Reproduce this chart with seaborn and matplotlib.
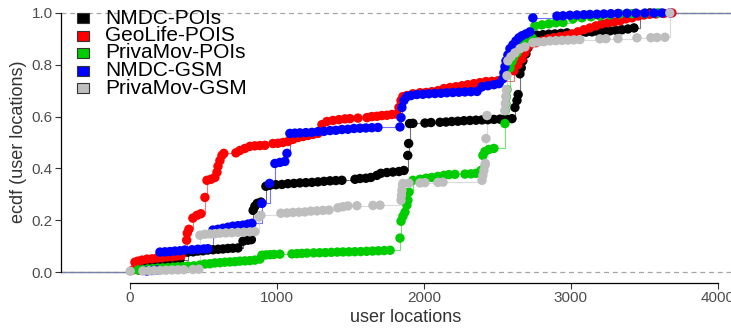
import matplotlib
matplotlib.use("Agg")
import matplotlib.pyplot as plt
from matplotlib.patches import Rectangle
import pandas as pd
import seaborn as sns

# ECDF points (user locations, cumulative share of users) per dataset
nmdc_pois = [
    (61, .008), (102, .019), (136, .027), (170, .031), (204, .035), (238, .038), (272, .042), (306, .046), (340, .048),
    (394, .077), (430, .078), (462, .081), (497, .082), (530, .085), (565, .086), (600, .088), (633, .089), (667, .091),
    (700, .092), (735, .093), (769, .119), (803, .123), (826, .125),
    (838, .238), (850, .254), (866, .265), (891, .27),
    (925, .331), (952, .335), (993, .337), (1034, .338), (1075, .341), (1116, .342), (1156, .344), (1197, .345),
    (1238, .346), (1279, .348), (1320, .35), (1361, .352), (1401, .353), (1442, .354),
    (1531, .358), (1565, .361), (1605, .362), (1639, .365), (1680, .373), (1707, .381), (1748, .384), (1789, .386),
    (1830, .388), (1864, .392), (1890, .45), (1896, .496),
    (1902, .573), (1925, .574), (2007, .575), (2048, .577), (2109, .578), (2150, .579), (2190, .581), (2231, .582),
    (2272, .584), (2313, .585), (2354, .586), (2395, .587), (2435, .588), (2476, .589), (2517, .59), (2558, .591),
    (2599, .592), (2619, .635), (2633, .662), (2641, .685),
    (2653, .765), (2662, .788), (2673, .815), (2694, .842), (2707, .865),
    (2728, .912), (2769, .914), (2810, .916), (2850, .918), (2891, .919), (2932, .921), (2973, .923), (3061, .924),
    (3102, .926), (3143, .927), (3184, .928), (3224, .93), (3265, .931), (3306, .933), (3347, .935), (3388, .938),
    (3429, .942), (3469, .992), (3537, 1.0),
]

geolife_pois = [
    (20, .008), (34, .038), (54, .042), (82, .046), (116, .05), (150, .051), (184, .054), (218, .055), (252, .058),
    (286, .059), (320, .062), (347, .063),
    (386, .123), (390, .15), (401, .165), (428, .208), (456, .219), (483, .225), (510, .288),
    (524, .354), (551, .358), (578, .365), (592, .385), (599, .408), (612, .43), (626, .45), (639, .458),
    (721, .46), (748, .469), (782, .477), (816, .485), (850, .487), (884, .488), (918, .489),
    (973, .496), (1007, .497), (1041, .5), (1075, .504), (1109, .512), (1143, .519), (1177, .523), (1211, .527),
    (1245, .531), (1279, .535),
    (1306, .569), (1340, .581), (1381, .585), (1422, .588), (1463, .591), (1497, .592), (1551, .594), (1612, .596),
    (1646, .6), (1680, .601), (1714, .604), (1748, .605), (1782, .608), (1816, .609),
    (1830, .635), (1844, .662), (1857, .677),
    (1884, .681), (1925, .688), (1973, .692), (2014, .693), (2054, .696), (2095, .7), (2136, .708), (2177, .712),
    (2218, .715), (2259, .719), (2299, .723), (2340, .727), (2381, .731), (2422, .735), (2463, .736), (2503, .738),
    (2612, .777), (2639, .8), (2667, .823), (2687, .846), (2701, .865), (2721, .877),
    (2762, .885), (2803, .892), (2844, .9), (2884, .904), (2925, .908), (2966, .912), (3007, .919), (3048, .927),
    (3088, .935), (3129, .942), (3170, .95), (3211, .958), (3252, .962), (3293, .965), (3333, .969), (3374, .977),
    (3415, .981), (3456, .988), (3497, .992), (3537, .995), (3578, .996), (3633, .998), (3687, 1.0),
]

privamov_pois = [
    (54, .008), (88, .009), (122, .012), (156, .013), (190, .015), (224, .016), (258, .017), (293, .019), (327, .02),
    (361, .021), (394, .023), (435, .024), (476, .027),
    (510, .031), (544, .032), (578, .035), (612, .036), (646, .038), (680, .039), (714, .04), (748, .042), (782, .043),
    (816, .044), (850, .046), (884, .05),
    (898, .065), (925, .066), (952, .067), (980, .068), (1020, .069), (1102, .07), (1136, .071), (1170, .072),
    (1204, .073), (1250, .074), (1290, .0745), (1330, .075), (1370, .076), (1410, .077), (1450, .0775), (1490, .078),
    (1530, .0785), (1570, .079), (1610, .08), (1650, .081), (1690, .082), (1730, .083), (1770, .084),
    (1837, .131),
    (1844, .196), (1857, .215), (1871, .231), (1884, .258), (1891, .277), (1898, .308),
    (1925, .354), (1973, .358), (2014, .362), (2054, .365), (2095, .369), (2136, .373), (2170, .376), (2211, .377),
    (2279, .378), (2320, .379), (2354, .381), (2388, .392),
    (2401, .45), (2415, .465), (2442, .473), (2476, .477),
    (2551, .573), (2554, .623), (2558, .65), (2561, .677), (2565, .704),
    (2585, .788), (2599, .812), (2612, .831), (2633, .846), (2653, .862), (2680, .877), (2707, .892), (2735, .904),
    (2755, .95), (2803, .954), (2850, .958), (2898, .962), (2946, .963),
    (3014, .977), (3075, .981), (3136, .985), (3197, .988), (3265, .992), (3333, .996), (3415, .997), (3503, .998),
    (3592, 1.0),
]

nmdc_gsm = [
    (116, .004), (150, .006), (184, .008),
    (204, .077), (238, .078), (272, .079), (306, .081), (340, .082), (374, .085), (422, .086), (462, .088),
    (503, .089), (530, .09),
    (565, .162), (599, .165), (633, .169), (667, .173), (700, .177), (735, .179), (769, .181), (803, .185),
    (830, .188), (898, .265), (950, .342),
    (986, .419), (1020, .423), (1054, .427), (1068, .458),
    (1088, .535), (1122, .536), (1156, .537), (1197, .538), (1238, .539), (1279, .542), (1320, .543), (1361, .546),
    (1401, .547), (1442, .55), (1483, .551), (1524, .554), (1565, .555), (1605, .556), (1646, .557), (1687, .558),
    (1837, .56),
    (1844, .596), (1850, .635), (1864, .662), (1884, .677), (1912, .681),
    (1952, .685), (1993, .686), (2034, .688), (2075, .689), (2116, .69), (2156, .692), (2197, .693), (2238, .694),
    (2279, .695), (2320, .696), (2361, .697),
    (2395, .715), (2435, .719), (2476, .723), (2510, .727),
    (2537, .746), (2544, .769), (2551, .792), (2558, .815), (2571, .838), (2585, .862), (2605, .877), (2626, .892),
    (2646, .904), (2667, .912), (2694, .919), (2721, .927), (2741, .981),
    (2905, .988), (2946, .989), (2993, .991), (3041, .992), (3088, .993), (3129, .994), (3177, .995), (3224, .996),
    (3272, .997), (3320, .998), (3381, .9985), (3442, .999), (3503, .9993), (3565, .9996), (3619, .9998),
    (3673, 1.0),
]

privamov_gsm = [
    (2, .003), (88, .004), (129, .005), (165, .0055), (204, .006), (245, .007), (286, .008), (327, .0085),
    (367, .009), (428, .01), (469, .011),
    (476, .142), (510, .146), (544, .147), (578, .148), (612, .15), (653, .151), (694, .152), (735, .153),
    (775, .154), (816, .155), (850, .156),
    (877, .212), (891, .219),
    (1027, .227), (1068, .228), (1109, .23), (1150, .231), (1190, .232), (1231, .235), (1272, .236), (1313, .238),
    (1354, .239), (1415, .248), (1449, .252), (1483, .255), (1544, .256), (1653, .257), (1701, .258),
    (1844, .277), (1847, .296), (1850, .315), (1854, .335), (1857, .342),
    (1898, .343), (1973, .344), (2007, .345), (2095, .346), (2130, .347),
    (2395, .354), (2401, .373), (2408, .392), (2415, .412), (2418, .419),
    (2422, .515), (2429, .604),
    (2551, .623), (2554, .65), (2558, .677), (2561, .704), (2565, .758),
    (2571, .815), (2592, .831), (2619, .846), (2653, .862), (2687, .869),
    (2741, .885), (2775, .888), (2816, .889), (2857, .892), (2898, .893), (2939, .894), (2980, .895), (3020, .896),
    (3061, .897), (3197, .9), (3238, .9005), (3320, .901), (3449, .904), (3544, .9045), (3585, .905), (3639, .906),
    (3673, 1.0),
]

series_names = ["NMDC-POIs", "GeoLife-POIS", "PrivaMov-POIs", "NMDC-GSM", "PrivaMov-GSM"]
series_data = [nmdc_pois, geolife_pois, privamov_pois, nmdc_gsm, privamov_gsm]
series_colors = ["#000000", "#ff0000", "#00cd00", "#0000ff", "#bebebe"]

x_ticks = [0, 1000, 2000, 3000, 4000]
y_ticks = [0.0, 0.2, 0.4, 0.6, 0.8, 1.0]

sns.set_style("white")
plt.rcParams["font.family"] = ["Liberation Sans", "DejaVu Sans"]

W, H = 731, 329
fig = plt.figure(figsize=(W / 100, H / 100), dpi=100)
ax = fig.add_axes([61 / W, (H - 283) / H, (751 - 61) / W, 282 / H])

frames = []
for name, pts in zip(series_names, series_data):
    d = pd.DataFrame(pts, columns=["x", "y"])
    d["series"] = name
    frames.append(d)
df = pd.concat(frames, ignore_index=True)

x_lo, x_hi = -469, 4225
# reference lines at 0 and 1
for level in (0, 1):
    ax.axhline(level, color="#a6a6a6", lw=0.9, ls=(0, (4, 3)), zorder=0)

# step lines, padded out to both ends of the panel
for name, color in zip(series_names, series_colors):
    d = df[df["series"] == name]
    xs = [x_lo - 100] + d["x"].tolist() + [x_hi + 100]
    ys = [0.0] + d["y"].tolist() + [1.0]
    sns.lineplot(x=xs, y=ys, drawstyle="steps-post", color=color, lw=0.8, alpha=0.55,
                 estimator=None, sort=False, ax=ax, zorder=1)

sns.scatterplot(data=df, x="x", y="y", hue="series", hue_order=series_names,
                palette=series_colors, s=46, linewidth=0, legend=False, ax=ax, zorder=2)

ax.set_xlim(x_lo, x_hi)
ax.set_ylim(-0.0423, 1.046)
ax.set_xticks(x_ticks)
ax.set_xticklabels([str(t) for t in x_ticks])
ax.set_yticks(y_ticks)
ax.set_yticklabels([f"{t:.1f}" for t in y_ticks])

for side in ("top", "right"):
    ax.spines[side].set_visible(False)
ax.spines["left"].set_bounds(0, 1)
ax.spines["bottom"].set_bounds(0, 4000)
for side in ("left", "bottom"):
    ax.spines[side].set_color("#000000")
    ax.spines[side].set_linewidth(0.9)

ax.tick_params(axis="both", direction="out", length=4, width=0.8, color="#333333",
               labelcolor="#4d4d4d", labelsize=11, pad=2)
ax.tick_params(axis="x", bottom=True)
ax.tick_params(axis="y", left=True)

ax.set_xlabel("user locations", fontsize=13, color="#333333")
ax.set_ylabel("ecdf (user locations)", fontsize=13, color="#333333")
ax.xaxis.set_label_coords((406 - 61) / (751 - 61), -0.093)
ax.yaxis.set_label_coords(-(61 - 27) / (751 - 61), 0.5)

# legend: filled keys with dark outline
for i, (name, color) in enumerate(zip(series_names, series_colors)):
    cy = 18 + 17.5 * i
    fig.patches.append(Rectangle((77 / W, 1 - (cy + 5) / H), 12 / W, 10 / H,
                                 transform=fig.transFigure, facecolor=color,
                                 edgecolor="#333333", lw=0.8))
    fig.text(105 / W, 1 - cy / H, name, ha="left", va="center", fontsize=15, color="#000000")

fig.savefig("out.png", dpi=100)
